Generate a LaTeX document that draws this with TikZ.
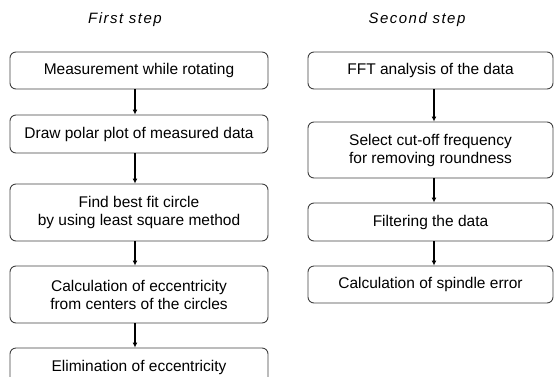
\documentclass[tikz,border=0pt]{standalone}
\usepackage{fontspec}
\setmainfont{Liberation Sans}
\usetikzlibrary{arrows.meta}
\begin{document}
\begin{tikzpicture}[x=1pt,y=-1pt,
  box/.style={draw=black!75, line width=0.9pt, rounded corners=6pt, align=center, inner sep=0pt,
    font=\fontsize{15.5}{18}\selectfont},
  lbox/.style={box, minimum width=258pt},
  rbox/.style={box, minimum width=245pt},
  arr/.style={draw=black, line width=1.4pt, -{Latex[length=5pt,width=5pt]}},
  ttl/.style={font=\fontsize{15}{18}\selectfont\itshape\addfontfeatures{LetterSpace=10}}]
\useasboundingbox (0,0) rectangle (555,376);
\clip (0,0) rectangle (555,376);
\node[ttl] (t1) at (125,20) {First step};
\node[ttl] (t2) at (417,20) {Second step};
\node[lbox, minimum height=37pt] (l1) at (139,70.5) {Measurement while rotating};
\node[lbox, minimum height=38pt] (l2) at (139,134) {Draw polar plot of measured data};
\node[lbox, minimum height=57pt] (l3) at (139,212.5) {Find best fit circle\\by using least square method};
\node[lbox, minimum height=57pt] (l4) at (139,294.5) {Calculation of eccentricity\\from centers of the circles};
\node[lbox, minimum height=38pt] (l5) at (139,367) {Elimination of eccentricity};
\node[rbox, minimum height=37pt] (r1) at (430.5,70.5) {FFT analysis of the data};
\node[rbox, minimum height=56pt] (r2) at (430.5,150) {Select cut-off frequency\\for removing roundness};
\node[rbox, minimum height=38pt] (r3) at (430.5,222) {Filtering the data};
\node[rbox, minimum height=37pt] (r4) at (430.5,284.5) {Calculation of spindle error};
\draw[arr] ([xshift=-4pt]l1.south) -- ([xshift=-4pt]l2.north);
\draw[arr] ([xshift=-4pt]l2.south) -- ([xshift=-4pt]l3.north);
\draw[arr] ([xshift=-4pt]l3.south) -- ([xshift=-4pt]l4.north);
\draw[arr] ([xshift=-4pt]l4.south) -- ([xshift=-4pt]l5.north);
\draw[arr] ([xshift=3.5pt]r1.south) -- ([xshift=3.5pt]r2.north);
\draw[arr] ([xshift=3.5pt]r2.south) -- ([xshift=3.5pt]r3.north);
\draw[arr] ([xshift=3.5pt]r3.south) -- ([xshift=3.5pt]r4.north);
\end{tikzpicture}
\end{document}
